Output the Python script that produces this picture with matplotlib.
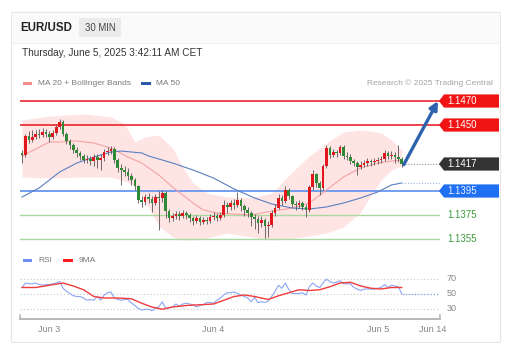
import numpy as np
import matplotlib
matplotlib.use("Agg")
import matplotlib.pyplot as plt
from matplotlib.patches import Rectangle, Polygon
import matplotlib.transforms as mtransforms

W, H = 515, 359
plt.rcParams['font.family'] = ['Liberation Sans', 'DejaVu Sans']

# ---- data: 30 min EUR/USD candles (bar index 0..111) ----
first_open = 1.14267
closes = [1.14250, 1.14408, 1.14375, 1.14400, 1.14425, 1.14417, 1.14442, 1.14425, 1.14400, 1.14433,
          1.14483, 1.14525, 1.14425, 1.14367, 1.14333, 1.14292, 1.14267, 1.14242, 1.14208, 1.14217,
          1.14200, 1.14233, 1.14208, 1.14225, 1.14275, 1.14283, 1.14300, 1.14208, 1.14142, 1.14125,
          1.14108, 1.14075, 1.14042, 1.13992, 1.13875, 1.13858, 1.13900, 1.13883, 1.13850, 1.13900,
          1.13892, 1.13933, 1.13783, 1.13725, 1.13742, 1.13758, 1.13742, 1.13767, 1.13750, 1.13725,
          1.13700, 1.13725, 1.13692, 1.13708, 1.13700, 1.13733, 1.13742, 1.13725, 1.13750, 1.13833,
          1.13817, 1.13850, 1.13833, 1.13875, 1.13825, 1.13792, 1.13767, 1.13733, 1.13717, 1.13683,
          1.13708, 1.13658, 1.13667, 1.13767, 1.13808, 1.13892, 1.13867, 1.13958, 1.13908, 1.13842,
          1.13833, 1.13850, 1.13817, 1.13792, 1.13983, 1.14092, 1.14017, 1.13975, 1.14158, 1.14308,
          1.14250, 1.14275, 1.14267, 1.14317, 1.14242, 1.14233, 1.14200, 1.14183, 1.14150, 1.14167,
          1.14183, 1.14200, 1.14192, 1.14200, 1.14208, 1.14217, 1.14267, 1.14242, 1.14250, 1.14233,
          1.14217, 1.14175]
highs = [1.14292, 1.14425, 1.14450, 1.14458, 1.14458, 1.14467, 1.14475, 1.14467, 1.14450, 1.14458,
         1.14500, 1.14550, 1.14542, 1.14442, 1.14383, 1.14350, 1.14317, 1.14283, 1.14258, 1.14250,
         1.14242, 1.14258, 1.14258, 1.14258, 1.14300, 1.14317, 1.14325, 1.14317, 1.14225, 1.14175,
         1.14158, 1.14142, 1.14100, 1.14058, 1.14000, 1.13908, 1.13925, 1.13933, 1.13908, 1.13925,
         1.13950, 1.13958, 1.13950, 1.13800, 1.13767, 1.13783, 1.13783, 1.13792, 1.13783, 1.13767,
         1.13742, 1.13750, 1.13742, 1.13733, 1.13733, 1.13758, 1.13775, 1.13767, 1.13775, 1.13875,
         1.13858, 1.13875, 1.13883, 1.13942, 1.13892, 1.13842, 1.13817, 1.13783, 1.13758, 1.13742,
         1.13742, 1.13725, 1.13700, 1.13792, 1.13842, 1.13925, 1.13917, 1.13992, 1.13975, 1.13917,
         1.13867, 1.13875, 1.13867, 1.13842, 1.14000, 1.14125, 1.14100, 1.14033, 1.14175, 1.14333,
         1.14325, 1.14300, 1.14292, 1.14333, 1.14333, 1.14275, 1.14258, 1.14217, 1.14200, 1.14200,
         1.14208, 1.14225, 1.14217, 1.14225, 1.14233, 1.14242, 1.14292, 1.14283, 1.14283, 1.14275,
         1.14333, 1.14233]
lows = [1.14183, 1.14233, 1.14350, 1.14358, 1.14383, 1.14392, 1.14400, 1.14400, 1.14358, 1.14383,
        1.14417, 1.14467, 1.14408, 1.14342, 1.14300, 1.14267, 1.14233, 1.14208, 1.14183, 1.14183,
        1.14167, 1.14158, 1.14142, 1.14125, 1.14200, 1.14250, 1.14258, 1.14183, 1.14108, 1.14000,
        1.14075, 1.14042, 1.14000, 1.13958, 1.13850, 1.13817, 1.13833, 1.13850, 1.13775, 1.13833,
        1.13625, 1.13858, 1.13725, 1.13692, 1.13700, 1.13717, 1.13708, 1.13725, 1.13717, 1.13692,
        1.13667, 1.13683, 1.13667, 1.13675, 1.13675, 1.13683, 1.13708, 1.13700, 1.13708, 1.13733,
        1.13767, 1.13792, 1.13800, 1.13817, 1.13783, 1.13742, 1.13733, 1.13658, 1.13633, 1.13600,
        1.13650, 1.13558, 1.13567, 1.13650, 1.13742, 1.13800, 1.13833, 1.13850, 1.13883, 1.13817,
        1.13792, 1.13808, 1.13792, 1.13733, 1.13775, 1.13958, 1.13983, 1.13917, 1.13958, 1.14142,
        1.14225, 1.14233, 1.14233, 1.14250, 1.14217, 1.14208, 1.14175, 1.14158, 1.14083, 1.14133,
        1.14150, 1.14158, 1.14158, 1.14167, 1.14175, 1.14183, 1.14200, 1.14217, 1.14217, 1.14183,
        1.14192, 1.14150]

# moving averages and bands, read at a few bars
ma20_x = [0, 8, 11, 16, 21, 26, 31, 35, 40, 44, 50, 53, 57, 62, 67, 70, 79, 84, 89, 94, 99, 104, 108, 111]
ma20 = [1.14242, 1.14358, 1.14358, 1.14367, 1.14350, 1.14308, 1.14233, 1.14183, 1.14083, 1.13983,
        1.13850, 1.13792, 1.13767, 1.13758, 1.13750, 1.13767, 1.13808, 1.13850, 1.13958, 1.14067,
        1.14142, 1.14183, 1.14200, 1.14208]
ma50_x = [0, 5, 11, 16, 21, 26, 29, 35, 37, 44, 50, 56, 62, 68, 73, 79, 84, 89, 94, 99, 104, 108, 111]
ma50 = [1.13900, 1.13975, 1.14108, 1.14183, 1.14233, 1.14275, 1.14283, 1.14267, 1.14242, 1.14183,
        1.14125, 1.14058, 1.13967, 1.13892, 1.13842, 1.13808, 1.13800, 1.13817, 1.13850, 1.13892,
        1.13942, 1.14000, 1.14017]
bb_x = [0, 8, 18, 26, 30, 33, 36, 40, 44, 47, 50, 54, 60, 67, 73, 79, 84, 89, 94, 99, 102, 105, 108, 111]
bb_upper = [1.14542, 1.14575, 1.14592, 1.14567, 1.14508, 1.14358, 1.14400, 1.14417, 1.14308, 1.14150,
            1.14017, 1.13933, 1.13900, 1.13892, 1.13933, 1.14108, 1.14242, 1.14350, 1.14442, 1.14458,
            1.14450, 1.14433, 1.14375, 1.14292]
bb_lower = [1.14067, 1.14058, 1.14067, 1.14067, 1.14033, 1.13992, 1.13858, 1.13658, 1.13567, 1.13542,
            1.13542, 1.13558, 1.13600, 1.13567, 1.13542, 1.13558, 1.13575, 1.13600, 1.13650, 1.13775,
            1.13908, 1.14042, 1.14125, 1.14158]

# key levels
resist = [1.1470, 1.1450]
pivot = 1.1395
support = [1.1375, 1.1355]
last_label = "1.1417"
target = 1.1470

# RSI and its 9 period MA
rsi = [58, 64, 63, 63, 64, 62, 61, 62, 62, 63, 64, 66, 57, 53, 50, 47, 46, 46, 44, 41,
       42, 41, 46, 41, 48, 51, 52, 44, 42, 41, 42, 42, 37, 34, 30, 28, 29, 29, 27, 30,
       32, 39, 30, 31, 32, 36, 33, 36, 37, 36, 35, 32, 34, 35, 38, 38, 37, 41, 44, 48,
       51, 51, 52, 50, 48, 46, 44, 39, 45, 38, 39, 38, 40, 46, 53, 61, 57, 64, 55, 50,
       50, 50, 51, 48, 59, 64, 60, 58, 64, 69, 66, 64, 65, 67, 63, 63, 63, 58, 56, 54,
       56, 56, 56, 56, 57, 58, 62, 58, 61, 60, 59, 50]
rsi_ma_x = [0, 4, 8, 12, 15, 18, 21, 24, 28, 32, 35, 38, 41, 44, 48, 52, 56, 59, 62, 65,
            68, 70, 72, 75, 78, 81, 84, 87, 90, 93, 96, 99, 102, 105, 108, 111]
rsi_ma = [58, 58, 61, 64, 60, 55, 46, 44, 44, 43, 37, 32, 29, 32, 34, 35, 36, 41, 46, 48,
          46, 44, 42, 47, 51, 55, 54, 55, 59, 64, 65, 60, 57, 56, 58, 58]

tick_pos = [8, 56, 104, 120]
tick_lab = ["Jun 3", "Jun 4", "Jun 5", "Jun 14"]

# ---- figure ----
fig = plt.figure(figsize=(W / 100, H / 100), dpi=100)
fig.patch.set_facecolor("white")

bg = fig.add_axes([0, 0, 1, 1], zorder=0)
bg.set_xlim(0, W)
bg.set_ylim(H, 0)
bg.axis("off")
bg.add_patch(Rectangle((11, 12), 489, 330, facecolor="white", edgecolor="#e6e6e6", lw=0.8))
bg.add_patch(Rectangle((11.5, 12.5), 488, 30.5, facecolor="#fafafa", edgecolor="none"))
bg.plot([11.5, 499.5], [43, 43], color="#efefef", lw=0.6)

bg.text(20.5, 28, "EUR/USD", fontsize=8.3, fontweight="bold", color="#222222", va="center")
bg.add_patch(Rectangle((79, 18), 42, 19, facecolor="#ebebeb", edgecolor="none"))
bg.text(100, 28, "30 MIN", fontsize=6.9, color="#444444", va="center", ha="center")
bg.text(21.5, 52.5, "Thursday, June 5, 2025 3:42:11 AM CET", fontsize=7.2, color="#333333", va="center")

bg.add_patch(Rectangle((22.7, 81.8), 9.6, 2.8, facecolor="#f28b8b", edgecolor="none"))
bg.text(38.5, 83.3, "MA 20 + Bollinger Bands", fontsize=6, color="#7a7a7a", va="center")
bg.add_patch(Rectangle((140.7, 81.8), 10, 2.8, facecolor="#2b5ba6", edgecolor="none"))
bg.text(156.5, 83.3, "MA 50", fontsize=6, color="#7a7a7a", va="center")
bg.text(493, 83.3, "Research \u00a9 2025 Trading Central", fontsize=6, color="#a3a3a3",
        va="center", ha="right")

bg.add_patch(Rectangle((22.7, 259.4), 9.6, 2.8, facecolor="#6d8ff0", edgecolor="none"))
bg.text(38.3, 260.8, "RSI", fontsize=6, color="#7a7a7a", va="center")
bg.add_patch(Rectangle((63.3, 259.4), 9.4, 2.8, facecolor="#ff1a1a", edgecolor="none"))
bg.text(79, 260.8, "9MA", fontsize=6, color="#7a7a7a", va="center")

# ---- price axes ----
xlim = (-0.585, 122.2)
ax = fig.add_axes([20 / W, 1 - 245 / H, 420 / W, 155 / H], zorder=1)
ax.set_xlim(*xlim)
ax.set_ylim(1.1350, 1.147917)
ax.axis("off")
ax.patch.set_alpha(0)

ax.fill_between(bb_x, bb_lower, bb_upper, color="#ffe4e4", lw=0, zorder=1)

for y in resist:
    ax.axhline(y, color="#e8141c", lw=1.1, zorder=2)
ax.axhline(pivot, color="#5b8ff0", lw=1.2, zorder=2)
for y in support:
    ax.axhline(y, color="#a9d8a0", lw=1.0, zorder=2)

ax.plot(ma20_x, ma20, color="#f5a3a3", lw=0.8, zorder=2.5)
ax.plot(ma50_x, ma50, color="#5a7fc0", lw=0.8, zorder=2.5)
ax.plot([ma50_x[-1], xlim[1]], [ma50[-1], ma50[-1]], color="#9fb6e3", lw=0.8,
        ls=(0, (1, 1.5)), zorder=2.5)

idx = np.arange(len(closes))
c = np.array(closes)
o = np.array([first_open] + closes[:-1])
up = c >= o
body_lo = np.minimum(o, c)
body_h = np.maximum(np.abs(c - o), 0.00004)
ax.vlines(idx, lows, highs, color="#555555", lw=0.6, zorder=3)
ax.bar(idx, body_h, bottom=body_lo, width=0.78,
       color=np.where(up, "#e3161e", "#2f8a35"), lw=0, zorder=4)

ax.plot([idx[-1] + 1, xlim[1]], [c[-1], c[-1]], color="#9a9a9a", lw=0.8,
        ls=(0, (1, 1.5)), zorder=2)

ax.annotate("", xy=(121.6, target), xytext=(idx[-1] + 0.6, c[-1] - 0.00005),
            arrowprops=dict(arrowstyle="-|>", color="#2f62ad", lw=2.4,
                            mutation_scale=12, shrinkA=0, shrinkB=0), zorder=5)

blend = mtransforms.blended_transform_factory(ax.transAxes, ax.transData)
hh = 0.00055


def tag(y, text, face, tcolor="white"):
    if face is not None:
        pts = [(0.9976, y), (1.0095, y + hh), (1.1405, y + hh), (1.1405, y - hh), (1.0095, y - hh)]
        ax.add_patch(Polygon(pts, closed=True, transform=blend, facecolor=face,
                             edgecolor="none", clip_on=False, zorder=6))
    ax.text(1.0167, y, text, transform=blend, color=tcolor, fontsize=7,
            va="center", ha="left", clip_on=False, zorder=7)


tag(resist[0], "%.4f" % resist[0], "#f01414")
tag(resist[1], "%.4f" % resist[1], "#f01414")
tag(c[-1], last_label, "#333333")
tag(pivot, "%.4f" % pivot, "#1f6ff2", "#e8f0ff")
for y in support:
    tag(y, "%.4f" % y, None, "#3c9c3c")

# ---- RSI axes ----
rax = fig.add_axes([20 / W, 1 - 319 / H, 420 / W, 54 / H], zorder=1)
rax.set_xlim(*xlim)
rax.set_ylim(16, 88)
rax.patch.set_alpha(0)
for s in ["top", "left", "right"]:
    rax.spines[s].set_visible(False)
rax.spines["bottom"].set_color("#b3b3b3")
rax.spines["bottom"].set_linewidth(1.3)
rax.set_yticks([])
rax.set_xticks(tick_pos)
rax.set_xticklabels(tick_lab)
rax.tick_params(axis="x", length=0, pad=4.5, labelsize=6.6, labelcolor="#888888")

for lvl in [70, 50, 30]:
    rax.axhline(lvl, color="#c8c8c8", lw=0.8, ls=(0, (1, 2)), zorder=1)
    rax.text(1.0167, lvl, str(lvl), transform=mtransforms.blended_transform_factory(
        rax.transAxes, rax.transData), fontsize=6.5, color="#888888", va="center",
        clip_on=False)

rax.plot(idx, rsi, color="#8aa6f5", lw=0.8, zorder=2)
rax.plot(rsi_ma_x, rsi_ma, color="#f23c3c", lw=1.0, zorder=3)
rax.plot([idx[-1], xlim[1]], [50, 50], color="#8aa6f5", lw=0.9, ls=(0, (1, 1.5)), zorder=2)

for xe in [0, 1]:
    rax.plot([xe, xe], [0, 0.08], transform=rax.transAxes, color="#b3b3b3", lw=1.1,
             clip_on=False)

fig.savefig("out.png", dpi=100, facecolor="white")
